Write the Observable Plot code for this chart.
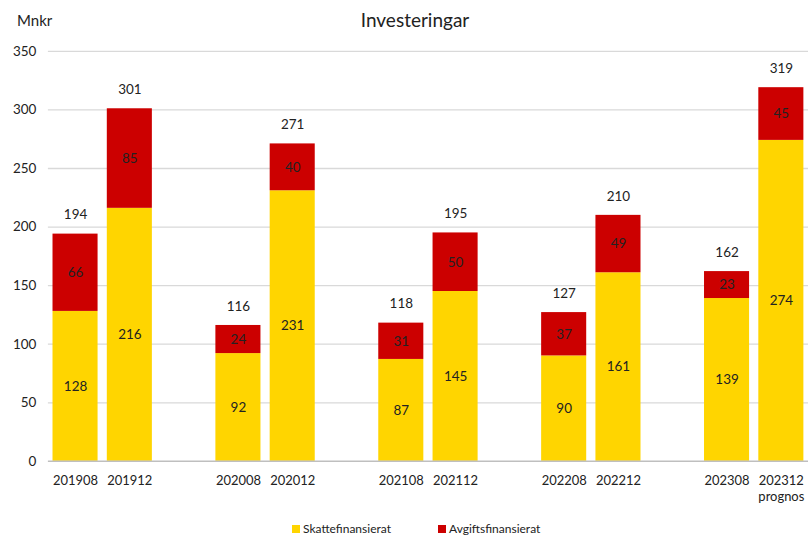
<!DOCTYPE html>
<html><head><meta charset="utf-8">
<script src="https://cdn.jsdelivr.net/npm/d3@7"></script>
<script src="https://cdn.jsdelivr.net/npm/@observablehq/plot@0.6"></script>
<style>
body{margin:0;background:#fff;font-family:Lato,"Open Sans",sans-serif;}
#wrap{position:relative;width:808px;height:538px;overflow:hidden;}
#wrap svg{position:absolute;left:0;top:0;}
.t{position:absolute;color:#222;white-space:nowrap;}
.sw{display:inline-block;width:8px;height:8px;margin-right:3px;}
</style></head>
<body><div id="wrap">
<div class="t" style="left:0;width:830px;text-align:center;top:8px;font-size:19px;">Investeringar</div>
<div class="t" style="left:17px;top:11px;font-size:15px;">Mnkr</div>
<div class="t" style="left:292px;top:521px;font-size:12px;"><span class="sw" style="background:#FFD500"></span>Skattefinansierat</div>
<div class="t" style="left:438px;top:521px;font-size:12px;"><span class="sw" style="background:#CC0000"></span>Avgiftsfinansierat</div>
</div>
<script>
const categories = ["201908","201912","202008","202012","202108","202112","202208","202212","202308","202312\nprognos"];
const skatt = [128,216,92,231,87,145,90,161,139,274];
const avgift = [66,85,24,40,31,50,37,49,23,45];
const totals = [194,301,116,271,118,195,127,210,162,319];
const series = ["Skattefinansierat","Avgiftsfinansierat"];
const colors = ["#FFD500","#CC0000"];
const yTicks = [0,50,100,150,200,250,300,350];

// domain with empty gap slots between year pairs
const domain = [];
categories.forEach((c,i)=>{ domain.push(c); if(i%2===1 && i<categories.length-1) domain.push(" ".repeat(i)); });

const rows = [];
categories.forEach((c,i)=>{
  rows.push({cat:c, series:series[0], value:skatt[i]});
  rows.push({cat:c, series:series[1], value:avgift[i]});
});
const tot = categories.map((c,i)=>({cat:c, total:totals[i]}));

const chart = Plot.plot({
  width:810, height:538,
  marginTop:51, marginBottom:76, marginLeft:48, marginRight:0,
  style:{fontFamily:"Lato, 'Open Sans', sans-serif", fontSize:"13.5px", color:"#222", background:"transparent", overflow:"visible"},
  x:{domain, paddingInner:0.17, paddingOuter:0.085, round:false, label:null},
  y:{domain:[0,350], label:null},
  color:{domain:series, range:colors},
  marks:[
    Plot.ruleY(yTicks.filter(d=>d>0), {stroke:"#d9d9d9", strokeWidth:1.3}),
    Plot.axisY({ticks:yTicks, tickSize:0, tickPadding:12, label:null, fontSize:13.5}),
    Plot.axisX({tickSize:0, tickPadding:13, label:null, lineHeight:1.2, fontSize:13,
      tickFormat:d=>d.trim()===""?"":d}),
    Plot.barY(rows, {x:"cat", y:"value", fill:"series", z:"series"}),
    Plot.ruleY([0], {stroke:"#bfbfbf", strokeWidth:1.5}),
    Plot.text(rows, Plot.stackY({x:"cat", y:"value", z:"series", text:d=>String(d.value), fill:"#222", fontSize:13.5})),
    Plot.text(tot, {x:"cat", y:"total", text:d=>String(d.total), dy:-19, fill:"#222", fontSize:13.5})
  ]
});
document.getElementById("wrap").prepend(chart);
</script>
</body></html>
